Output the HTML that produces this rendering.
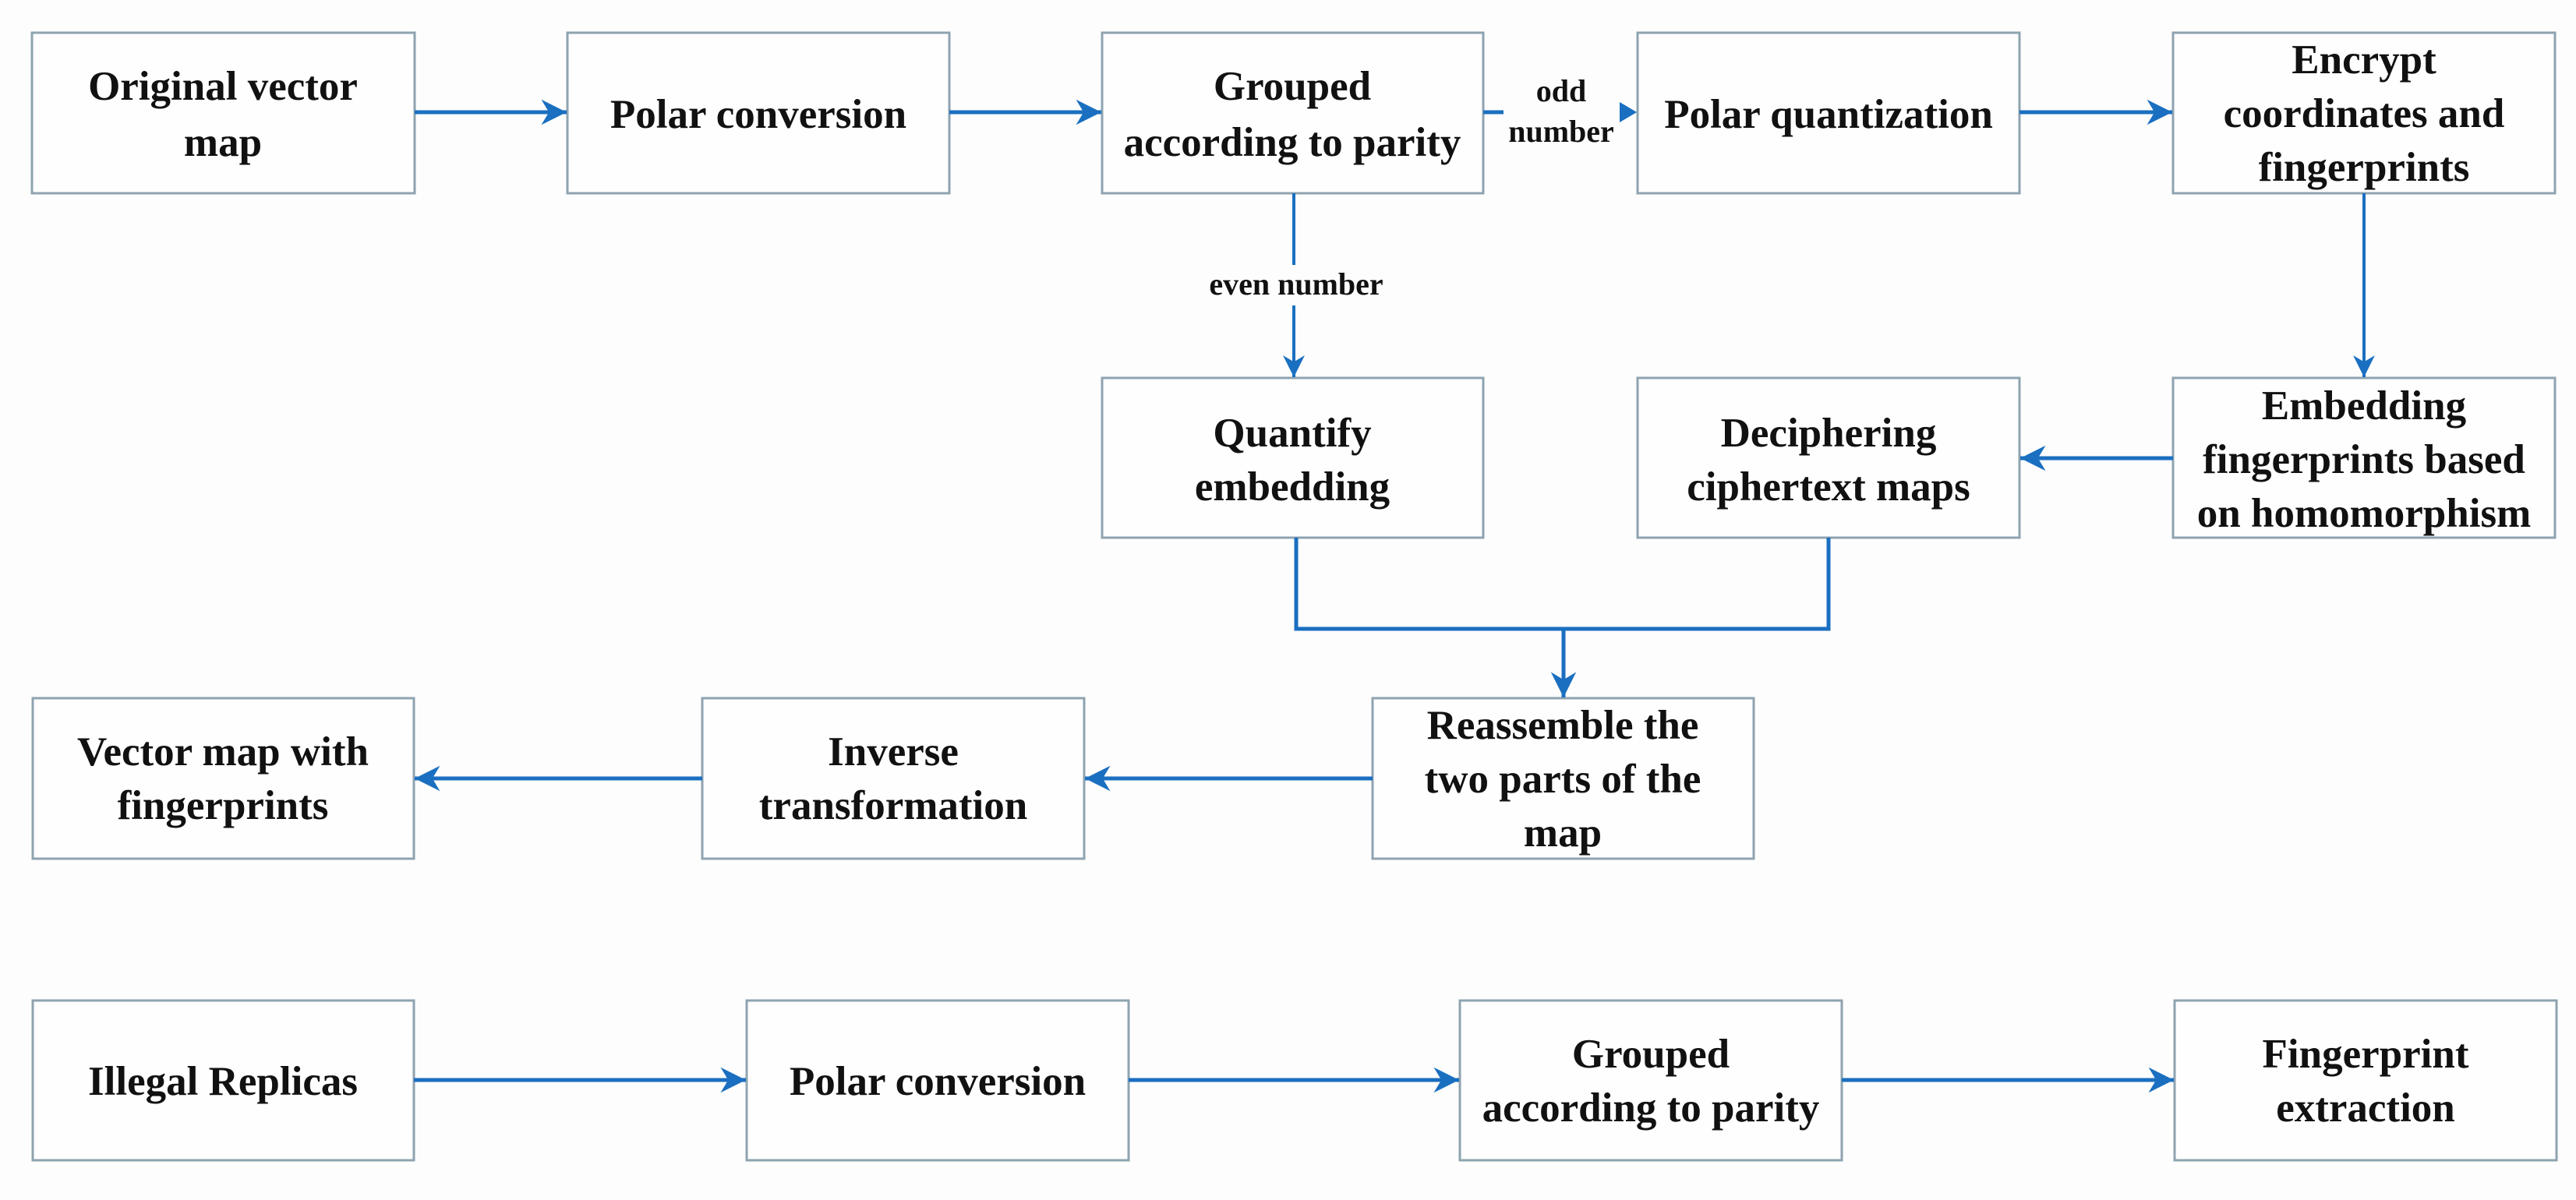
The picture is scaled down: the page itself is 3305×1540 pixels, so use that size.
<!DOCTYPE html>
<html><head><meta charset="utf-8"><style>
html,body{margin:0;padding:0;background:#fdfdfd;}
svg{display:block;}
text{font-family:"Liberation Serif",serif;font-weight:bold;fill:#111;text-anchor:middle;}
.b{fill:#fefefe;stroke:#8ea3b0;stroke-width:3;}
.t{font-size:53px;}
.s{font-size:40px;}
.a{stroke:#1a6fc0;fill:none;}
.h{fill:#1a6fc0;}
</style></head><body>
<svg width="3305" height="1540" viewBox="0 0 3305 1540" xmlns="http://www.w3.org/2000/svg">
<defs>
<marker id="m" viewBox="0 0 10 10" refX="10" refY="5" markerWidth="7" markerHeight="7" markerUnits="strokeWidth" orient="auto">
<path d="M0,0 L10,5 L0,10 L3,5 Z" class="h"/></marker>
<marker id="n" viewBox="0 0 10 10" refX="10" refY="5" markerWidth="6.5" markerHeight="6.5" markerUnits="strokeWidth" orient="auto">
<path d="M0,0 L10,5 L0,10 L3,5 Z" class="h"/></marker>
</defs>
<!-- row 1 -->
<rect class="b" x="41" y="42" width="491" height="206"/>
<rect class="b" x="728" y="42" width="490" height="206"/>
<rect class="b" x="1414" y="42" width="489" height="206"/>
<rect class="b" x="2101" y="42" width="490" height="206"/>
<rect class="b" x="2788" y="42" width="490" height="206"/>
<text class="t" x="286" y="128">Original vector</text>
<text class="t" x="286" y="200">map</text>
<text class="t" x="973" y="164">Polar conversion</text>
<text class="t" x="1658" y="128">Grouped</text>
<text class="t" x="1658" y="200">according to parity</text>
<text class="t" x="2346" y="164">Polar quantization</text>
<text class="t" x="3033" y="94">Encrypt</text>
<text class="t" x="3033" y="163">coordinates and</text>
<text class="t" x="3033" y="232">fingerprints</text>
<!-- row 2 -->
<rect class="b" x="1414" y="485" width="489" height="205"/>
<rect class="b" x="2101" y="485" width="490" height="205"/>
<rect class="b" x="2788" y="485" width="490" height="205"/>
<text class="t" x="1658" y="573">Quantify</text>
<text class="t" x="1658" y="642">embedding</text>
<text class="t" x="2346" y="573">Deciphering</text>
<text class="t" x="2346" y="642">ciphertext maps</text>
<text class="t" x="3033" y="538">Embedding</text>
<text class="t" x="3033" y="607">fingerprints based</text>
<text class="t" x="3033" y="676">on homomorphism</text>
<!-- row 3 -->
<rect class="b" x="42" y="896" width="489" height="206"/>
<rect class="b" x="901" y="896" width="490" height="206"/>
<rect class="b" x="1761" y="896" width="489" height="206"/>
<text class="t" x="286" y="982">Vector map with</text>
<text class="t" x="286" y="1051">fingerprints</text>
<text class="t" x="1146" y="982">Inverse</text>
<text class="t" x="1146" y="1051">transformation</text>
<text class="t" x="2005" y="948">Reassemble the</text>
<text class="t" x="2005" y="1017">two parts of the</text>
<text class="t" x="2005" y="1086">map</text>
<!-- row 4 -->
<rect class="b" x="42" y="1284" width="489" height="205"/>
<rect class="b" x="958" y="1284" width="490" height="205"/>
<rect class="b" x="1873" y="1284" width="490" height="205"/>
<rect class="b" x="2790" y="1284" width="490" height="205"/>
<text class="t" x="286" y="1405">Illegal Replicas</text>
<text class="t" x="1203" y="1405">Polar conversion</text>
<text class="t" x="2118" y="1370">Grouped</text>
<text class="t" x="2118" y="1439">according to parity</text>
<text class="t" x="3035" y="1370">Fingerprint</text>
<text class="t" x="3035" y="1439">extraction</text>
<!-- connectors -->
<line class="a" stroke-width="5" x1="532" y1="144" x2="727" y2="144" marker-end="url(#n)"/>
<line class="a" stroke-width="5" x1="1218" y1="144" x2="1413" y2="144" marker-end="url(#n)"/>
<line class="a" stroke-width="5" x1="1903" y1="144" x2="1929" y2="144"/>
<path class="h" d="M2078,131 L2100,144 L2078,157 Z"/>
<text class="s" x="2003" y="130">odd</text>
<text class="s" x="2003" y="182">number</text>
<line class="a" stroke-width="5" x1="2591" y1="144" x2="2787" y2="144" marker-end="url(#n)"/>
<line class="a" stroke-width="4" x1="1660" y1="248" x2="1660" y2="340"/>
<line class="a" stroke-width="4" x1="1660" y1="392" x2="1660" y2="484" marker-end="url(#m)"/>
<text class="s" x="1663" y="378">even number</text>
<line class="a" stroke-width="4" x1="3033" y1="248" x2="3033" y2="484" marker-end="url(#m)"/>
<line class="a" stroke-width="5" x1="2788" y1="588" x2="2592" y2="588" marker-end="url(#n)"/>
<polyline class="a" stroke-width="5" points="1663,690 1663,807 2346,807 2346,690"/>
<line class="a" stroke-width="5" x1="2006" y1="807" x2="2006" y2="895" marker-end="url(#n)"/>
<line class="a" stroke-width="5" x1="1761" y1="999" x2="1392" y2="999" marker-end="url(#n)"/>
<line class="a" stroke-width="5" x1="901" y1="999" x2="532" y2="999" marker-end="url(#n)"/>
<line class="a" stroke-width="5" x1="531" y1="1386" x2="957" y2="1386" marker-end="url(#n)"/>
<line class="a" stroke-width="5" x1="1448" y1="1386" x2="1872" y2="1386" marker-end="url(#n)"/>
<line class="a" stroke-width="5" x1="2363" y1="1386" x2="2789" y2="1386" marker-end="url(#n)"/>
</svg>
</body></html>
